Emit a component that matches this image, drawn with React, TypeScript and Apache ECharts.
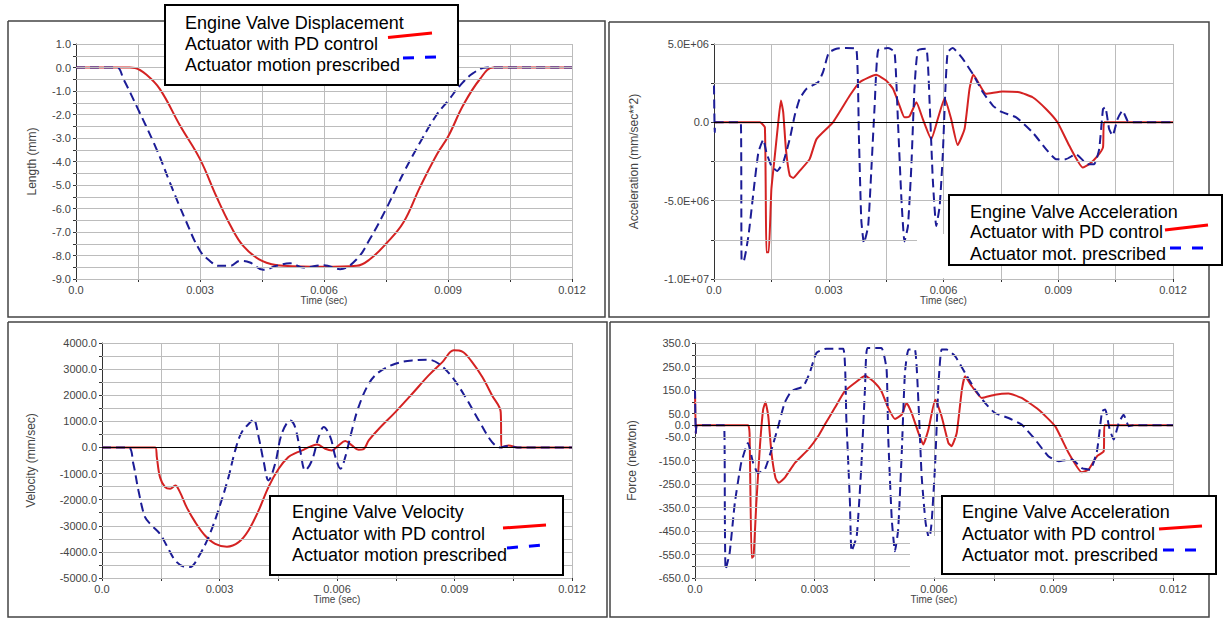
import React, { useEffect, useRef } from "react";
import * as echarts from "echarts";

// ---------- DATA (time in s) ----------
const dispPD: [number, number][] = [
  [0, 0], [0.0013, 0], [0.00143, -0.02], [0.0017, -0.3], [0.00203, -0.92], [0.00252, -2.48],
  [0.003, -3.9], [0.0034, -5.5], [0.00373, -6.7], [0.00405, -7.6], [0.0045, -8.23],
  [0.00502, -8.44], [0.006, -8.48], [0.00679, -8.44], [0.00711, -8.16], [0.0075, -7.5],
  [0.00792, -6.6], [0.00832, -5.1], [0.00873, -3.7], [0.009, -2.95], [0.00937, -1.6],
  [0.00977, -0.5], [0.0101, 0], [0.012, 0],
];
const dispPrescribed: [number, number][] = [
  [0, 0], [0.00098, 0], [0.00115, -0.5], [0.0015, -1.77], [0.00195, -3.48], [0.00227, -4.89],
  [0.00264, -6.45], [0.003, -7.8], [0.00324, -8.23], [0.00344, -8.44], [0.00373, -8.44],
  [0.00397, -8.23], [0.00421, -8.3], [0.00453, -8.61], [0.00485, -8.44], [0.00518, -8.33],
  [0.0055, -8.51], [0.006, -8.41], [0.00639, -8.58], [0.00679, -8.16], [0.00711, -7.3],
  [0.0075, -6.03], [0.00792, -4.5], [0.00832, -3.2], [0.00873, -2.0], [0.009, -1.42],
  [0.0093, -0.75], [0.0096, -0.25], [0.00995, 0], [0.012, 0],
];
const accPD: [number, number][] = [
  [0, 0], [0.0012, 0], [0.00133, -0.32e6], [0.00137, -8.3e6], [0.00143, -8.3e6], [0.0015, -4.27e6],
  [0.00159, -2.14e6], [0.00168, 0], [0.00175, 1.39e6], [0.00181, 0.64e6], [0.00188, -1.71e6],
  [0.00198, -3.4e6], [0.00207, -3.55e6], [0.00224, -3.1e6], [0.0025, -2.35e6], [0.00268, -1.07e6],
  [0.00311, 0], [0.00355, 1.71e6], [0.00381, 2.56e6], [0.00424, 3.03e6], [0.0045, 2.67e6],
  [0.00468, 2.14e6], [0.00485, 1.07e6], [0.00498, 0.32e6], [0.00511, 0.38e6], [0.00529, 1.28e6],
  [0.00546, 0.21e6], [0.00568, -1.07e6], [0.00585, 0.21e6], [0.00603, 1.54e6], [0.0062, 0.21e6],
  [0.00637, -1.45e6], [0.00655, -0.43e6], [0.00668, 2.14e6], [0.00678, 3.03e6], [0.00711, 1.82e6],
  [0.00755, 1.97e6], [0.00798, 1.92e6], [0.00833, 1.6e6], [0.00868, 0.85e6], [0.00898, 0],
  [0.00929, -1.5e6], [0.00964, -2.88e6], [0.00981, -2.67e6], [0.01003, -2.14e6], [0.01017, -1.6e6],
  [0.0102, 0], [0.012, 0],
];
const accPrescribed: [number, number][] = [
  [0, 2.35e6], [0.00002, -0.64e6], [0.00005, 0], [0.0007, 0], [0.00072, -8.76e6], [0.00077, -8.9e6],
  [0.0009, -7.26e6], [0.00103, -4.49e6], [0.00116, -1.92e6], [0.00129, -1.1e6], [0.00137, -1.92e6],
  [0.0015, -2.78e6], [0.00165, -3.1e6], [0.00181, -2.56e6], [0.00198, -1.07e6], [0.00211, 0.43e6],
  [0.00224, 1.5e6], [0.00242, 2.14e6], [0.00272, 2.56e6], [0.00285, 3.2e6], [0.003, 4.44e6],
  [0.0032, 4.7e6], [0.00346, 4.74e6], [0.00372, 4.7e6], [0.00379, -1.07e6], [0.00385, -6.2e6],
  [0.00392, -7.7e6], [0.00403, -6.62e6], [0.00411, -3.2e6], [0.0042, 1.07e6], [0.00429, 4.6e6],
  [0.00455, 4.74e6], [0.00472, 4.49e6], [0.00481, 0], [0.0049, -4.91e6], [0.00498, -7.6e6],
  [0.00507, -6.62e6], [0.00516, -2.78e6], [0.00524, 2.14e6], [0.00533, 4.6e6], [0.00555, 4.7e6],
  [0.00564, 1.07e6], [0.00572, -3.63e6], [0.00581, -6.62e6], [0.0059, -5.34e6], [0.00598, -2.14e6],
  [0.00605, 2.14e6], [0.00611, 4.49e6], [0.00624, 4.74e6], [0.0065, 4.06e6], [0.00678, 3.03e6],
  [0.00703, 1.92e6], [0.00729, 1.07e6], [0.0075, 0.68e6], [0.0079, 0.32e6], [0.00833, -0.64e6],
  [0.00868, -1.71e6], [0.00894, -2.35e6], [0.0092, -2.35e6], [0.00946, -2.03e6], [0.00977, -2.67e6],
  [0.00994, -2.67e6], [0.01007, -1.71e6], [0.01017, 0.85e6], [0.01023, 0.96e6], [0.01033, -0.43e6],
  [0.01042, -0.85e6], [0.01055, 0.21e6], [0.01068, 0.75e6], [0.01081, 0.1e6], [0.0109, 0], [0.012, 0],
];
const velPD: [number, number][] = [
  [0, 0], [0.00136, 0], [0.0014, -370], [0.00148, -1137], [0.00161, -1520], [0.00174, -1583],
  [0.00187, -1456], [0.00199, -1711], [0.00216, -2286], [0.00238, -2860], [0.00263, -3371],
  [0.00289, -3690], [0.00319, -3800], [0.00349, -3627], [0.00374, -3180], [0.004, -2413],
  [0.00425, -1520], [0.00451, -817], [0.00476, -370], [0.00494, -217], [0.00511, -115], [0.00528, 13],
  [0.00549, 115], [0.0057, -51], [0.00587, -115], [0.00604, 77], [0.00621, 243], [0.00638, 77],
  [0.00655, -90], [0.00668, -64], [0.00681, 268], [0.00707, 715], [0.00749, 1354], [0.00792, 2056],
  [0.00834, 2758], [0.00869, 3269], [0.00898, 3720], [0.0092, 3670], [0.00945, 3269], [0.00971, 2694],
  [0.00996, 1992], [0.01018, 1354], [0.0102, 0], [0.01038, 77], [0.01062, 0], [0.012, 0],
];
const velPrescribed: [number, number][] = [
  [0, 0], [0.00067, 0], [0.0008, -626], [0.00093, -1647], [0.0011, -2669], [0.00127, -2988],
  [0.00148, -3307], [0.00165, -3754], [0.00187, -4329], [0.00208, -4560], [0.00225, -4580],
  [0.00246, -4201], [0.00272, -3435], [0.00297, -2413], [0.00323, -1137], [0.0034, -115],
  [0.00357, 587], [0.00383, 1034], [0.00387, 1098], [0.004, 396], [0.00413, -562], [0.00425, -1264],
  [0.00442, -626], [0.00459, 524], [0.00481, 1034], [0.00493, 779], [0.00506, -115], [0.00519, -881],
  [0.00536, -498], [0.00553, 396], [0.00566, 779], [0.00583, 396], [0.00596, -370], [0.00609, -817],
  [0.00621, -370], [0.00638, 651], [0.00655, 1545], [0.00681, 2439], [0.00707, 2886], [0.00749, 3205],
  [0.00792, 3333], [0.00834, 3358], [0.0086, 3205], [0.00894, 2694], [0.00928, 1928], [0.00962, 1034],
  [0.00996, 204], [0.01018, 0], [0.01035, 60], [0.0106, 0], [0.012, 0],
];
const forcePD: [number, number][] = [
  [0, 150], [0.00002, -33], [0.00005, 0], [0.00133, 0], [0.00137, -33], [0.00142, -564],
  [0.00147, -557], [0.00154, -330], [0.00163, -89], [0.00171, 67], [0.00177, 98], [0.00184, 38],
  [0.00192, -118], [0.00202, -224], [0.0021, -245], [0.00225, -224], [0.00251, -160], [0.00284, -104],
  [0.00309, -47], [0.00326, 3], [0.00351, 74], [0.00376, 145], [0.00401, 180], [0.00427, 211],
  [0.00452, 180], [0.00468, 145], [0.00485, 74], [0.00502, 27], [0.00519, 45], [0.00531, 95],
  [0.00544, 52], [0.00561, -33], [0.00573, -82], [0.00586, -18], [0.00603, 109], [0.00619, 38],
  [0.00636, -75], [0.00644, -89], [0.00657, -33], [0.0067, 152], [0.00678, 208], [0.00695, 166],
  [0.0072, 116], [0.00753, 130], [0.00787, 135], [0.0082, 116], [0.00862, 67], [0.00904, -4],
  [0.00938, -118], [0.00971, -200], [0.00988, -189], [0.01009, -132], [0.01026, -111], [0.01028, 0],
  [0.012, 0],
];
const forcePrescribed: [number, number][] = [
  [0, 150], [0.00002, -33], [0.00005, 0], [0.00073, 0], [0.00075, -401], [0.00077, -614],
  [0.00087, -543], [0.001, -330], [0.00116, -160], [0.00133, -75], [0.00146, -160], [0.00158, -203],
  [0.00175, -189], [0.00192, -104], [0.00209, -4], [0.00225, 95], [0.00242, 145], [0.00272, 166],
  [0.00288, 223], [0.00305, 308], [0.0033, 326], [0.00372, 326], [0.0038, 24], [0.00389, -330],
  [0.00393, -536], [0.00406, -472], [0.00418, -160], [0.00427, 166], [0.00433, 329], [0.00468, 329],
  [0.00481, 237], [0.00485, -47], [0.00494, -401], [0.00502, -536], [0.0051, -444], [0.00519, -118],
  [0.00527, 223], [0.00536, 322], [0.00552, 322], [0.00561, 95], [0.00569, -217], [0.00579, -415],
  [0.00588, -486], [0.00594, -415], [0.00603, -160], [0.00611, 166], [0.00619, 322], [0.00632, 322],
  [0.00653, 294], [0.00678, 223], [0.00703, 152], [0.00728, 95], [0.00753, 52], [0.00787, 31],
  [0.0082, 3], [0.00854, -61], [0.00887, -132], [0.00913, -153], [0.00946, -146], [0.00971, -182],
  [0.00992, -189], [0.01009, -111], [0.01022, 60], [0.0103, 67], [0.0104, -11], [0.01051, -61],
  [0.01064, 10], [0.01076, 45], [0.01089, -4], [0.011, 0], [0.012, 0],
];

const yNames = ["Length (mm)", "Acceleration (mm/sec**2)", "Velocity (mm/sec)", "Force (newton)"];
const xName = "Time (sec)";
const legendTitles = ["Engine Valve Displacement", "Engine Valve Acceleration", "Engine Valve Velocity", "Engine Valve Acceleration"];
const legendPD = ["Actuator with PD control", "Actuator with PD control", "Actuator with PD control", "Actuator with PD control"];
const legendPresc = ["Actuator motion prescribed", "Actuator mot. prescribed", "Actuator motion prescribed", "Actuator mot. prescribed"];

const FONT = '"Liberation Sans", Arial, sans-serif';
const RED = "#d42222";
const BLUE = "#1c1c96";
const GRID = "#bcbcbc";

function expFmt(v: number): string {
  if (Math.abs(v) < 1e-9) return "0.0";
  const s = v.toExponential(1);
  const [m, e] = s.split("e");
  const sign = e[0] === "-" ? "-" : "+";
  const d = e.replace(/[+-]/, "").padStart(2, "0");
  return `${m}E${sign}${d}`;
}

export default function App() {
  const ref = useRef<HTMLDivElement>(null);
  useEffect(() => {
    if (!ref.current) return;
    const chart = echarts.init(ref.current, undefined, { renderer: "svg" });
    const grids = [
      { left: 76, top: 44, width: 496, height: 235 },
      { left: 714, top: 44, width: 459, height: 235 },
      { left: 102, top: 343, width: 470, height: 235 },
      { left: 695, top: 343, width: 478, height: 235 },
    ];
    const yCfg = [
      { min: -9, max: 1, interval: 0.5, fmt: (v: number) => (Math.abs(v - Math.round(v)) < 1e-9 ? v.toFixed(1) : ""), gap: 38 },
      { min: -1e7, max: 5e6, interval: 2.5e6, fmt: (v: number) => (Math.round(v / 2.5e6) % 2 === 0 ? expFmt(v) : ""), gap: 74 },
      { min: -5000, max: 4000, interval: 500, fmt: (v: number) => (Math.round(v / 500) % 2 === 0 ? v.toFixed(1) : ""), gap: 65 },
      { min: -650, max: 350, interval: 50, fmt: (v: number) => (Math.round((v + 650) / 50) % 2 === 0 || Math.abs(v) < 1e-9 ? v.toFixed(1) : ""), gap: 57 },
    ];
    const pairs = [
      [dispPD, dispPrescribed],
      [accPD, accPrescribed],
      [velPD, velPrescribed],
      [forcePD, forcePrescribed],
    ];
    const smooths = [0.4, 0.15, 0.35, 0.15];
    const labelStyle = { color: "#444", fontSize: 11, fontFamily: FONT };
    const xAxis = grids.map((_, i) => ({
      type: "value",
      gridIndex: i,
      min: 0,
      max: 0.012,
      interval: 0.0015,
      name: xName,
      nameLocation: "middle",
      nameGap: 16,
      nameTextStyle: { color: "#444", fontSize: 10, fontFamily: FONT },
      axisLine: { show: true, onZero: false, lineStyle: { color: "#333", width: 1 } },
      axisTick: { show: true, length: 3 },
      axisLabel: {
        ...labelStyle,
        margin: 5,
        formatter: (v: number) => {
          const k = Math.round(v / 0.0015);
          if (k % 2 !== 0) return "";
          return k === 0 ? "0.0" : (k * 0.0015).toFixed(3);
        },
      },
      splitLine: { show: true, lineStyle: { color: GRID, width: 1 } },
    }));
    const yAxis = grids.map((_, i) => ({
      type: "value",
      gridIndex: i,
      min: yCfg[i].min,
      max: yCfg[i].max,
      interval: yCfg[i].interval,
      name: yNames[i],
      nameLocation: "middle",
      nameGap: yCfg[i].gap,
      nameTextStyle: { color: "#444", fontSize: 12, fontFamily: FONT },
      axisLine: { show: true, onZero: false, lineStyle: { color: "#333", width: 1 } },
      axisTick: { show: true, length: 3 },
      axisLabel: { ...labelStyle, margin: 5, formatter: yCfg[i].fmt },
      splitLine: { show: true, lineStyle: { color: GRID, width: 1 } },
    }));
    const series: any[] = [];
    pairs.forEach((p, i) => {
      const c = yCfg[i];
      const levels: number[] = [];
      const n = Math.round((c.max - c.min) / c.interval);
      for (let k = 0; k <= n; k++) {
        const v = c.min + k * c.interval;
        if (Math.abs(v) > 1e-9 || i === 0) levels.push(v);
      }
      series.push({
        type: "line",
        name: "hgrid" + i,
        xAxisIndex: i,
        yAxisIndex: i,
        data: [],
        silent: true,
        z: 1,
        markLine: {
          silent: true,
          symbol: ["none", "none"],
          label: { show: false },
          lineStyle: { color: GRID, type: "solid", width: 1 },
          data: levels.map((v) => ({ yAxis: v })),
        },
      });
      if (i > 0) {
        series.push({
          type: "line",
          name: "zero" + i,
          xAxisIndex: i,
          yAxisIndex: i,
          data: [],
          silent: true,
          z: 2,
          markLine: {
            silent: true,
            symbol: ["none", "none"],
            label: { show: false },
            lineStyle: { color: "#000", type: "solid", width: 1 },
            data: [{ yAxis: 0 }],
          },
        });
      }
      series.push({
        type: "line",
        name: legendPD[i],
        xAxisIndex: i,
        yAxisIndex: i,
        data: p[0],
        showSymbol: false,
        smooth: smooths[i],
        lineStyle: { color: RED, width: 2 },
        z: 3,
      });
      series.push({
        type: "line",
        name: legendPresc[i],
        xAxisIndex: i,
        yAxisIndex: i,
        data: p[1],
        showSymbol: false,
        smooth: smooths[i],
        lineStyle: { color: BLUE, width: 2, type: [9, 5] },
        z: 4,
      });
    });

    const borders = [
      [8, 21, 597, 296],
      [609, 22, 600, 295],
      [8, 322, 599, 295],
      [610, 322, 599, 295],
    ];
    const legends = [
      { box: [165, 5, 293, 80], tx: 185, ty: [23, 44, 65], red: [388, 37.5, 432, 33], blue: [403, 58, 437, 57] },
      { box: [949, 195, 273, 70], tx: 970, ty: [212, 232, 254], red: [1165, 230, 1208, 225], blue: [1170, 248, 1207, 248] },
      { box: [270, 496, 293, 79], tx: 292, ty: [512, 534, 555], red: [503, 528, 546, 525], blue: [507, 548, 543, 545] },
      { box: [942, 496, 274, 78], tx: 962, ty: [512, 534, 555], red: [1159, 529, 1202, 526], blue: [1163, 550, 1200, 550] },
    ];
    const whites = [
      [917, 234, 32, 44],
      [910, 536, 32, 41],
    ];
    const graphic: any[] = [];
    borders.forEach((b) =>
      graphic.push({ type: "polyline", z: 0, silent: true, shape: { points: [[b[0], b[1]], [b[0] + b[2], b[1]], [b[0] + b[2], b[1] + b[3]], [b[0], b[1] + b[3]], [b[0], b[1]]] }, style: { fill: null, stroke: "#444", lineWidth: 1.5 } })
    );
    whites.forEach((w) =>
      graphic.push({ type: "rect", z: 90, shape: { x: w[0], y: w[1], width: w[2], height: w[3] }, style: { fill: "#fff" } })
    );
    legends.forEach((l, i) => {
      graphic.push({ type: "rect", z: 100, shape: { x: l.box[0], y: l.box[1], width: l.box[2], height: l.box[3] }, style: { fill: "#fff", stroke: "#000", lineWidth: 2 } });
      [legendTitles[i], legendPD[i], legendPresc[i]].forEach((t, j) =>
        graphic.push({ type: "text", z: 101, style: { text: t, x: l.tx, y: l.ty[j], font: `18px ${FONT}`, fill: "#000", verticalAlign: "middle" } })
      );
      graphic.push({ type: "line", z: 102, shape: { x1: l.red[0], y1: l.red[1], x2: l.red[2], y2: l.red[3] }, style: { stroke: "#ff0000", lineWidth: 3 } });
      graphic.push({ type: "line", z: 102, shape: { x1: l.blue[0], y1: l.blue[1], x2: l.blue[2], y2: l.blue[3] }, style: { stroke: "#0000ff", lineWidth: 3, lineDash: [11, 11] } });
    });

    chart.setOption({
      animation: false,
      backgroundColor: "#fff",
      grid: grids,
      xAxis,
      yAxis,
      series,
      graphic,
    });
    return () => chart.dispose();
  }, []);
  return <div ref={ref} style={{ position: "absolute", left: 0, top: 0, width: 1225, height: 619 }} />;
}
